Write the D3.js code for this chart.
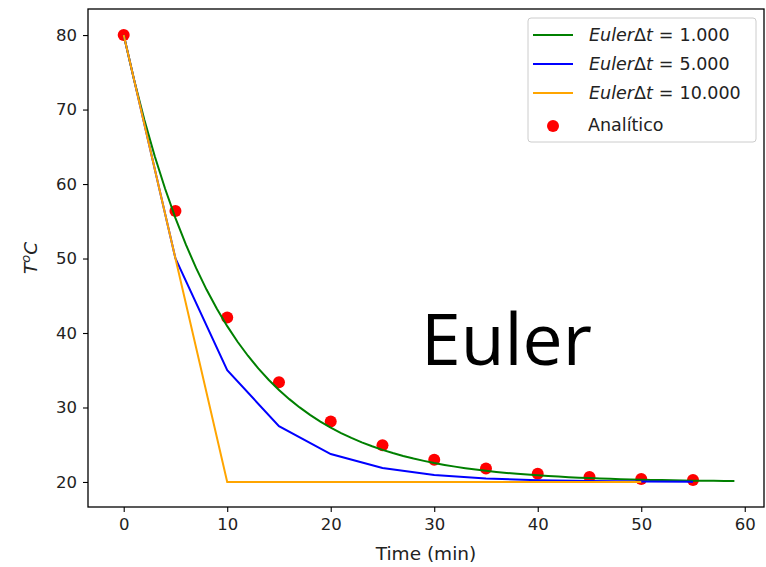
<!DOCTYPE html>
<html>
<head>
<meta charset="utf-8">
<script src="https://cdn.jsdelivr.net/npm/d3@7"></script>
<style>
  body { margin: 0; background: #fff; }
  svg text { font-family: "DejaVu Sans", sans-serif; fill: #222; }
</style>
</head>
<body>
<div id="chart"></div>
<script>
// Datos
const eulerDt1 = [80, 74, 68.6, 63.74, 59.37, 55.43, 51.89, 48.70, 45.83, 43.25,
    40.92, 38.83, 36.95, 35.25, 33.73, 32.35, 31.12, 30.01, 29.01, 28.11,
    27.29, 26.57, 25.91, 25.32, 24.79, 24.31, 23.88, 23.49, 23.14, 22.83,
    22.54, 22.29, 22.06, 21.85, 21.67, 21.50, 21.35, 21.22, 21.09, 20.99,
    20.89, 20.80, 20.72, 20.65, 20.58, 20.52, 20.47, 20.42, 20.38, 20.34,
    20.31, 20.28, 20.25, 20.23, 20.20, 20.18, 20.16, 20.15, 20.13, 20.12];
const timeDt5 = [0, 5, 10, 15, 20, 25, 30, 35, 40, 45, 50, 55];
const eulerDt5 = [80, 50, 35, 27.5, 23.75, 21.88, 20.94, 20.47, 20.23, 20.12, 20.06, 20.03];
const timeDt10 = [0, 10, 20, 30, 40, 50];
const eulerDt10 = [80, 20, 20, 20, 20, 20];
const timeAnalitico = [0, 5, 10, 15, 20, 25, 30, 35, 40, 45, 50, 55];
const analitico = [80, 56.39, 42.07, 33.39, 28.12, 24.92, 22.99, 21.81, 21.10, 20.67, 20.40, 20.25];
const xTicks = [0, 10, 20, 30, 40, 50, 60];
const yTicks = [20, 30, 40, 50, 60, 70, 80];
const series = [
    { dt: '1.000', color: 'green', t: eulerDt1.map((d, i) => i), v: eulerDt1 },
    { dt: '5.000', color: 'blue', t: timeDt5, v: eulerDt5 },
    { dt: '10.000', color: 'orange', t: timeDt10, v: eulerDt10 }
];

const W = 766, H = 567;
const margin = { top: 9, right: 2, bottom: 60, left: 88 };
const width = W - margin.left - margin.right,
    height = H - margin.top - margin.bottom;

const svg = d3.select('#chart').append('svg')
    .attr('width', W).attr('height', H);
const g = svg.append('g')
    .attr('transform', 'translate(' + margin.left + ',' + margin.top + ')');

const x = d3.scaleLinear().domain([-3.45, 61.86]).range([0, width]);
const y = d3.scaleLinear().domain([16.64, 83.5]).range([height, 0]);

// Ejes
const xAxis = g.append('g')
    .attr('transform', 'translate(0,' + height + ')')
    .call(d3.axisBottom(x).tickValues(xTicks).tickSize(5).tickPadding(6).tickFormat(d3.format('d')));
const yAxis = g.append('g')
    .call(d3.axisLeft(y).tickValues(yTicks).tickSize(5).tickPadding(6).tickFormat(d3.format('d')));
[xAxis, yAxis].forEach(a => {
    a.selectAll('.domain').remove();
    a.selectAll('line').attr('stroke', '#000').attr('stroke-width', 1.1);
    a.selectAll('text').style('font-size', '16.5px').attr('fill', '#222');
});
g.append('rect')
    .attr('width', width).attr('height', height)
    .attr('fill', 'none').attr('stroke', '#000').attr('stroke-width', 1.3);

// Puntos analíticos (debajo de las líneas)
g.selectAll('circle.an')
    .data(analitico)
    .enter().append('circle')
    .attr('class', 'an')
    .attr('cx', (d, i) => x(timeAnalitico[i]))
    .attr('cy', d => y(d))
    .attr('r', 6)
    .attr('fill', 'red');

// Líneas de Euler
const line = d3.line().x(d => x(d[0])).y(d => y(d[1]));
series.forEach(s => {
    g.append('path')
        .datum(s.t.map((t, i) => [t, s.v[i]]))
        .attr('d', line)
        .attr('fill', 'none')
        .attr('stroke', s.color)
        .attr('stroke-width', 2);
});

// Etiquetas de ejes
svg.append('text')
    .attr('x', margin.left + width / 2).attr('y', 560)
    .attr('text-anchor', 'middle')
    .style('font-size', '18.5px')
    .text('Time (min)');

const yl = svg.append('text')
    .attr('transform', 'translate(37,' + (margin.top + height / 2) + ') rotate(-90)')
    .attr('text-anchor', 'middle')
    .style('font-size', '18.5px')
    .style('font-style', 'italic');
yl.append('tspan').text('T');
yl.append('tspan').attr('dy', -7).style('font-size', '13px').text('o');
yl.append('tspan').attr('dy', 7).text('C');

// Leyenda
const leg = svg.append('g').attr('transform', 'translate(528,18)');
leg.append('rect')
    .attr('width', 228).attr('height', 124).attr('rx', 3)
    .attr('fill', '#fff').attr('fill-opacity', 0.8)
    .attr('stroke', '#ccc');
series.forEach((s, i) => {
    const yy = 17 + i * 29;
    leg.append('line')
        .attr('x1', 5).attr('x2', 45).attr('y1', yy).attr('y2', yy)
        .attr('stroke', s.color).attr('stroke-width', 2);
    const t = leg.append('text').attr('x', 61).attr('y', yy + 6).style('font-size', '17.5px');
    t.append('tspan').style('font-style', 'italic').text('Euler');
    t.append('tspan').text('Δ');
    t.append('tspan').style('font-style', 'italic').text('t');
    t.append('tspan').attr('dx', 6).text('=');
    t.append('tspan').attr('dx', 6).text(s.dt);
});
leg.append('circle').attr('cx', 25).attr('cy', 108).attr('r', 6).attr('fill', 'red');
leg.append('text').attr('x', 60).attr('y', 113).style('font-size', '17.5px').text('Analítico');

// Texto grande
svg.append('text')
    .attr('x', 421).attr('y', 365)
    .attr('textLength', 171).attr('lengthAdjust', 'spacingAndGlyphs')
    .style('font-family', '"Open Sans", Lato, sans-serif')
    .style('font-size', '72px')
    .style('fill', '#000')
    .text('Euler');
</script>
</body>
</html>
